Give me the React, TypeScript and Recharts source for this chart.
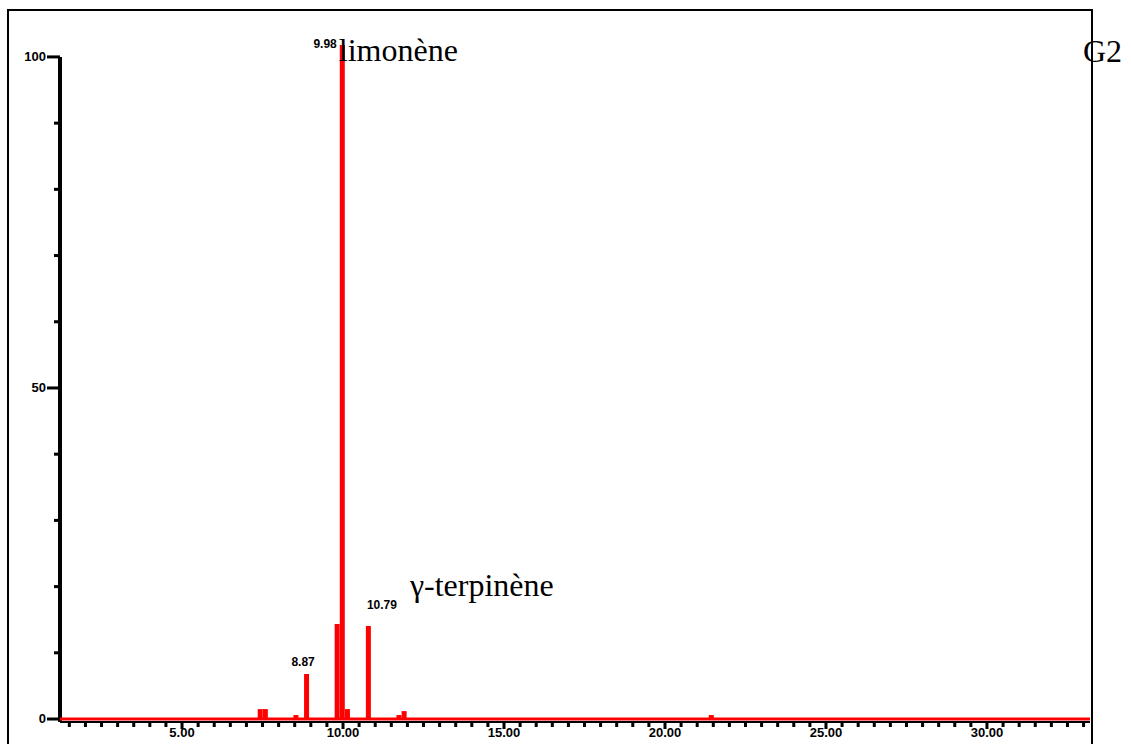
import { BarChart, Bar, XAxis, YAxis, ReferenceLine, LabelList } from "recharts";

// retention time (min) and relative abundance (%)
const retentionTimes = [7.43, 7.59, 8.54, 8.87, 9.82, 9.98, 10.14, 10.79, 11.74, 11.9, 21.44];
const abundances = [1.5, 1.5, 0.6, 6.8, 14.35, 101.8, 1.5, 14.05, 0.6, 1.2, 0.6];
const peakTags = ["", "", "", "8.87", "", "9.98", "", "10.79", "", "", ""];
const peakNames = ["", "", "", "", "", "limonène", "", "γ-terpinène", "", "", ""];

const xLabels = [5, 10, 15, 20, 25, 30];
const yLabels = [0, 50, 100];
const yTicks = [0, 10, 20, 30, 40, 50, 60, 70, 80, 90, 100];
const sampleName = "G2";

const xDomain: [number, number] = [1.21, 33.2];
const yDomain: [number, number] = [-0.45, 101.8];

// minor ticks every half minute
const xTicks = Array.from({ length: 64 }, (_, i) => 1.5 + i * 0.5);

const chartData = retentionTimes.map((t, i) => ({
  t,
  h: abundances[i],
  tag: peakTags[i],
}));

const serif = "'Liberation Serif', 'Times New Roman', serif";
const sans = "'Liberation Sans', Arial, sans-serif";

// where each annotation sits relative to its bar
const labelLayout: Record<string, { tagDx: number; tagDy: number; anchor: string; nameDx?: number; nameDy?: number }> = {
  "8.87": { tagDx: -3.5, tagDy: -8, anchor: "middle" },
  "9.98": { tagDx: -3, tagDy: 3, anchor: "end", nameDx: -1, nameDy: 16 },
  "10.79": { tagDx: 1, tagDy: -17, anchor: "start", nameDx: 44, nameDy: -30 },
};

const PeakLabel = (props: any) => {
  const { x, y, width, index, value } = props;
  if (!value) return null;
  const lay = labelLayout[value];
  if (!lay) return null;
  const cx = Number(x) + Number(width) / 2;
  const tx = lay.anchor === "middle" ? cx + lay.tagDx : Number(x) + lay.tagDx;
  const name = peakNames[index];
  return (
    <g>
      <text x={tx} y={Number(y) + lay.tagDy} textAnchor={lay.anchor as any} fontSize={12} fontWeight="bold" fontFamily={sans} fill="#000">
        {value}
      </text>
      {name && (
        <text x={Number(x) + (lay.nameDx || 0)} y={Number(y) + (lay.nameDy || 0)} fontSize={32} fontFamily={serif} fill="#000">
          {name}
        </text>
      )}
    </g>
  );
};

const XTick = ({ x, y, payload }: any) => {
  const v = payload.value;
  const major = xLabels.includes(v);
  return (
    <g>
      <rect x={x - 1.5} y={y + 1} width={3} height={major ? 6 : 4} fill="#000" />
      {major && (
        <text x={x} y={y + 15} textAnchor="middle" fontSize={13} fontWeight="bold" fontFamily={sans} fill="#000">
          {v.toFixed(2)}
        </text>
      )}
    </g>
  );
};

const YTick = ({ x, y, payload }: any) => {
  const v = payload.value;
  const major = yLabels.includes(v);
  return (
    <g>
      <rect x={major ? x - 13 : x - 6} y={y - 1.5} width={major ? 13 : 6} height={3} fill="#000" />
      {major && (
        <text x={x - 14} y={y + 4} textAnchor="end" fontSize={13} fontWeight="bold" fontFamily={sans} fill="#000">
          {v}
        </text>
      )}
    </g>
  );
};

export default function App() {
  return (
    <div style={{ position: "absolute", left: 0, top: 0, width: 1131, height: 744, overflow: "hidden", background: "#fff" }}>
      <div
        style={{
          position: "absolute",
          left: 7,
          top: 9,
          width: 1082,
          height: 800,
          borderLeft: "2px solid #000",
          borderTop: "2px solid #000",
          borderRight: "2px solid #000",
        }}
      />
      <div style={{ position: "absolute", left: 0, top: 0 }}>
        <BarChart width={1131} height={744} data={chartData} margin={{ top: 45, right: 41, left: 0, bottom: 0 }}>
          <XAxis
            dataKey="t"
            type="number"
            domain={xDomain}
            ticks={xTicks}
            allowDataOverflow
            height={22}
            tickSize={0}
            tickMargin={0}
            interval={0}
            tick={<XTick />}
            axisLine={{ stroke: "#000", strokeWidth: 2 }}
          />
          <YAxis
            type="number"
            domain={yDomain}
            ticks={yTicks}
            allowDataOverflow
            width={60}
            tickSize={0}
            tickMargin={0}
            interval={0}
            tick={<YTick />}
            axisLine={false}
          />
          <ReferenceLine
            segment={[
              { x: xDomain[0], y: yDomain[0] },
              { x: xDomain[0], y: 100 },
            ]}
            stroke="#000"
            strokeWidth={4}
          />
          <ReferenceLine y={0} stroke="#ff0000" strokeWidth={3} />
          <Bar dataKey="h" fill="#ff0000" barSize={5} isAnimationActive={false}>
            <LabelList dataKey="tag" content={<PeakLabel />} />
          </Bar>
        </BarChart>
      </div>
      <svg width={1131} height={744} style={{ position: "absolute", left: 0, top: 0, pointerEvents: "none" }}>
        <text x={1083} y={62} fontSize={32} fontFamily={serif} fill="#000">
          {sampleName}
        </text>
      </svg>
    </div>
  );
}
